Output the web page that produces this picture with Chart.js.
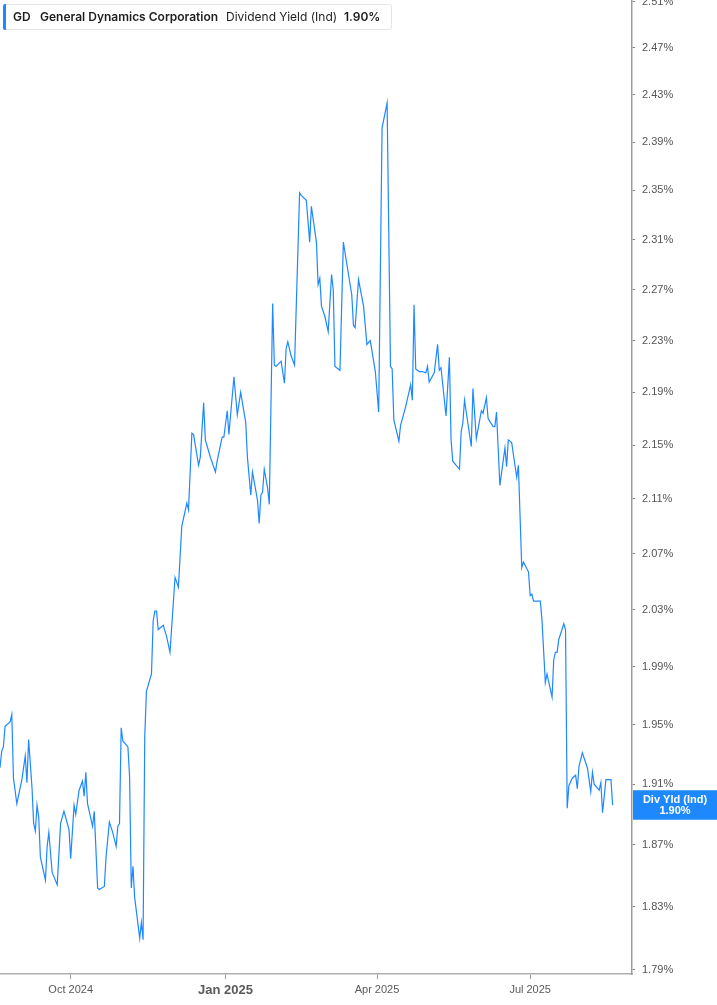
<!DOCTYPE html>
<html>
<head>
<meta charset="utf-8">
<script src="https://cdn.jsdelivr.net/npm/chart.js@4.4.1/dist/chart.umd.min.js"></script>
<style>
  html, body { margin: 0; padding: 0; background: #fff; }
  #wrap { position: relative; width: 717px; height: 1005px; }
  #chart { position: absolute; left: 0; top: 0; }
  #legend {
    position: absolute; left: 3px; top: 4px; width: 389px; height: 26px;
    box-sizing: border-box; border: 1px solid #e4e4e4; border-radius: 3px; background: #fff;
    font-family: Inter, "Noto Sans", sans-serif; font-size: 12px; color: #1e1e1e;
  }
  #legend .bar { position: absolute; left: -1px; top: -1px; width: 3px; height: 26px; background: #1e88ff; border-radius: 2px 0 0 2px; }
  #legend span { position: absolute; top: 0; line-height: 24px; white-space: nowrap; }
  #legend .b { font-weight: 600; }
</style>
</head>
<body>
<div id="wrap">
  <canvas id="chart" width="717" height="1005"></canvas>
  <div id="legend">
    <div class="bar"></div>
    <span class="b" id="lgSym" style="left:9px"></span>
    <span class="b" id="lgName" style="left:36px"></span>
    <span id="lgMetric" style="left:222px"></span>
    <span class="b" id="lgValue" style="left:340px"></span>
  </div>
</div>
<script>
// ---- data ----
const symbol = 'GD';
const companyName = 'General Dynamics Corporation';
const metricName = 'Dividend Yield (Ind)';
const priceLabelTitle = 'Div Yld (Ind)';

const dates = [
  '2024-08-20','2024-08-21','2024-08-22','2024-08-23','2024-08-26','2024-08-27','2024-08-28','2024-08-30',
  '2024-09-02','2024-09-04','2024-09-05','2024-09-06','2024-09-08','2024-09-09','2024-09-10','2024-09-11','2024-09-12','2024-09-13','2024-09-16','2024-09-17','2024-09-18','2024-09-20','2024-09-23','2024-09-25','2024-09-27','2024-09-30',
  '2024-10-01','2024-10-03','2024-10-04','2024-10-06','2024-10-08','2024-10-09','2024-10-10','2024-10-11','2024-10-14','2024-10-15','2024-10-17','2024-10-18','2024-10-21','2024-10-22','2024-10-24','2024-10-26','2024-10-28','2024-10-29','2024-10-30','2024-10-31',
  '2024-11-01','2024-11-04','2024-11-05','2024-11-06','2024-11-07','2024-11-08','2024-11-11','2024-11-12','2024-11-13','2024-11-14','2024-11-15','2024-11-18','2024-11-19','2024-11-20','2024-11-21','2024-11-22','2024-11-25','2024-11-27','2024-11-29',
  '2024-12-02','2024-12-04','2024-12-06','2024-12-09','2024-12-10','2024-12-12','2024-12-13','2024-12-16','2024-12-17','2024-12-19','2024-12-20','2024-12-23','2024-12-26','2024-12-27','2024-12-30','2024-12-31',
  '2025-01-02','2025-01-03','2025-01-06','2025-01-08','2025-01-10','2025-01-13','2025-01-14','2025-01-16','2025-01-17','2025-01-20','2025-01-21','2025-01-22','2025-01-23','2025-01-24','2025-01-26','2025-01-27','2025-01-29','2025-01-30','2025-01-31',
  '2025-02-03','2025-02-05','2025-02-06','2025-02-07','2025-02-09','2025-02-11','2025-02-14','2025-02-15','2025-02-18','2025-02-20','2025-02-21','2025-02-24','2025-02-25','2025-02-26','2025-02-27',
  '2025-03-01','2025-03-03','2025-03-05','2025-03-06','2025-03-07','2025-03-10','2025-03-12','2025-03-14','2025-03-17','2025-03-18','2025-03-19','2025-03-21','2025-03-24','2025-03-26','2025-03-28','2025-03-31',
  '2025-04-02','2025-04-04','2025-04-07','2025-04-09','2025-04-10','2025-04-11','2025-04-14','2025-04-15','2025-04-18','2025-04-21','2025-04-22','2025-04-23','2025-04-24','2025-04-26','2025-04-28','2025-04-30',
  '2025-05-01','2025-05-02','2025-05-05','2025-05-07','2025-05-08','2025-05-09','2025-05-12','2025-05-14','2025-05-15','2025-05-16','2025-05-20','2025-05-21','2025-05-22','2025-05-23','2025-05-27','2025-05-28','2025-05-30',
  '2025-06-02','2025-06-03','2025-06-05','2025-06-06','2025-06-09','2025-06-10','2025-06-11','2025-06-13','2025-06-16','2025-06-17','2025-06-18','2025-06-20','2025-06-23','2025-06-24','2025-06-26','2025-06-27','2025-06-30',
  '2025-07-01','2025-07-02','2025-07-03','2025-07-07','2025-07-08','2025-07-10','2025-07-11','2025-07-14','2025-07-15','2025-07-16','2025-07-17','2025-07-18','2025-07-21','2025-07-22','2025-07-23','2025-07-24','2025-07-26','2025-07-28','2025-07-29','2025-07-30',
  '2025-08-01','2025-08-04','2025-08-06','2025-08-07','2025-08-08','2025-08-11','2025-08-12','2025-08-13','2025-08-15','2025-08-18','2025-08-19'
];

const dividendYield = [
  1.921,1.932,1.935,1.949,1.952,1.957,1.914,1.897,
  1.913,1.929,1.911,1.940,1.908,1.884,1.879,1.896,1.888,1.862,1.847,1.869,1.878,1.852,1.844,1.884,1.892,1.880,
  1.861,1.896,1.890,1.906,1.912,1.902,1.918,1.897,1.882,1.892,1.842,1.841,1.843,1.862,1.885,1.878,1.869,1.882,1.884,1.948,
  1.939,1.935,1.915,1.842,1.856,1.836,1.810,1.820,1.809,1.942,1.973,1.985,2.022,2.029,2.029,2.016,2.019,2.011,2.000,
  2.053,2.046,2.090,2.107,2.102,2.159,2.158,2.135,2.141,2.182,2.154,2.141,2.130,2.138,2.156,2.156,
  2.176,2.158,2.202,2.173,2.190,2.167,2.141,2.113,2.130,2.109,2.092,2.113,2.115,2.132,2.118,2.106,2.259,2.211,2.210,
  2.214,2.197,2.224,2.229,2.218,2.211,2.348,2.346,2.342,2.308,2.337,2.308,2.274,2.279,2.257,
  2.249,2.237,2.282,2.270,2.210,2.207,2.308,2.291,2.266,2.242,2.240,2.278,2.257,2.227,2.230,2.206,
  2.175,2.402,2.423,2.210,2.208,2.169,2.153,2.165,2.179,2.196,2.184,2.258,2.208,2.206,2.206,2.205,
  2.210,2.198,2.205,2.227,2.207,2.209,2.172,2.217,2.154,2.138,2.132,2.160,2.167,2.184,2.149,2.193,2.155,
  2.176,2.174,2.186,2.170,2.164,2.164,2.175,2.120,2.148,2.134,2.154,2.152,2.126,2.135,2.060,2.064,2.057,
  2.040,2.041,2.036,2.036,2.023,1.979,1.985,1.969,1.995,2.000,2.000,2.009,2.020,2.016,1.894,1.909,1.914,1.916,1.907,1.922,
  1.931,1.921,1.905,1.918,1.910,1.906,1.911,1.891,1.913,1.913,1.896
];

const yTicks = [1.79,1.83,1.87,1.91,1.95,1.99,2.03,2.07,2.11,2.15,2.19,2.23,2.27,2.31,2.35,2.39,2.43,2.47,2.51];
const yMin = 1.7875, yMax = 2.5116;

const xTickDates = ['2024-10-01','2025-01-01','2025-04-01','2025-07-01'];
const xTickLabels = ['Oct 2024','Jan 2025','Apr 2025','Jul 2025'];
const xStartDate = '2024-08-20', xEndDate = '2025-08-30';

// ---- helpers ----
const EPOCH = Date.UTC(2024, 9, 1);
function dayNum(s) {
  const [y, m, d] = s.split('-').map(Number);
  return (Date.UTC(y, m - 1, d) - EPOCH) / 86400000;
}
const lastValue = dividendYield[dividendYield.length - 1];
const points = dates.map((d, i) => ({ x: dayNum(d), y: dividendYield[i] }));

document.getElementById('lgSym').textContent = symbol;
document.getElementById('lgName').textContent = companyName;
document.getElementById('lgMetric').textContent = metricName;
document.getElementById('lgValue').textContent = lastValue.toFixed(2) + '%';

const AXFONT = '"Liberation Sans", Arial, sans-serif';

const priceLabel = {
  id: 'priceLabel',
  afterDraw(chart) {
    const { ctx, chartArea, scales } = chart;
    const py = scales.y.getPixelForValue(lastValue);
    const left = chartArea.right + 1;
    const w = chart.width - left;
    ctx.save();
    ctx.fillStyle = '#1e88ff';
    ctx.fillRect(left, py - 15, w, 29.5);
    ctx.fillStyle = '#ffffff';
    ctx.font = 'bold 11px ' + AXFONT;
    ctx.textAlign = 'center';
    ctx.textBaseline = 'middle';
    const cx = left + w / 2;
    ctx.fillText(priceLabelTitle, cx, py - 5.5);
    ctx.fillText(lastValue.toFixed(2) + '%', cx, py + 5.5);
    ctx.restore();
  }
};

new Chart(document.getElementById('chart'), {
  type: 'line',
  data: {
    datasets: [{
      data: points,
      borderColor: '#1e88ff',
      borderWidth: 1.2,
      pointRadius: 0,
      tension: 0,
      fill: false
    }]
  },
  options: {
    responsive: false,
    animation: false,
    layout: { padding: 0 },
    plugins: { legend: { display: false }, tooltip: { enabled: false } },
    scales: {
      x: {
        type: 'linear',
        position: 'bottom',
        min: dayNum(xStartDate),
        max: dayNum(xEndDate) + 0.5,
        grid: { drawOnChartArea: false, drawTicks: true, tickLength: 5, color: '#9a9a9a', lineWidth: 1 },
        border: { display: true, color: '#b0b0b0', width: 1.5 },
        ticks: {
          autoSkip: false, maxRotation: 0, minRotation: 0, padding: 4,
          color: '#5a5a5a',
          font: (c) => (c.tick && c.tick.value === dayNum('2025-01-01'))
            ? { family: AXFONT, size: 13, weight: 'bold' }
            : { family: AXFONT, size: 11, weight: 'normal' },
          callback: (v, i) => xTickLabels[i]
        },
        afterBuildTicks: (s) => { s.ticks = xTickDates.map(d => ({ value: dayNum(d) })); },
        afterFit: (s) => { s.height = 31; s.paddingLeft = 0; s.paddingRight = 0; }
      },
      y: {
        type: 'logarithmic',
        position: 'right',
        min: yMin,
        max: yMax,
        grid: { drawOnChartArea: false, drawTicks: true, tickLength: 3, color: '#808080' },
        border: { display: true, color: '#9c9c9c', width: 1.5 },
        ticks: {
          padding: 7,
          color: '#555555',
          font: { family: AXFONT, size: 11 },
          callback: (v) => Number(v).toFixed(2) + '%'
        },
        afterBuildTicks: (s) => { s.ticks = yTicks.map(v => ({ value: v })); },
        afterFit: (s) => { s.width = 85; s.paddingTop = 0; s.paddingBottom = 0; }
      }
    }
  },
  plugins: [priceLabel]
});
</script>
</body>
</html>
